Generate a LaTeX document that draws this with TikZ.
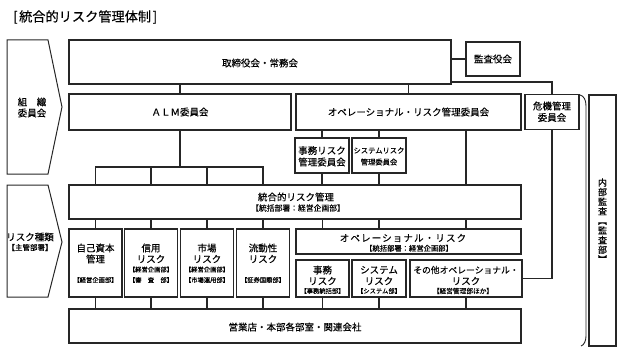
\documentclass[tikz,border=0pt]{standalone}
\usepackage{fontspec}
\setmainfont{Noto Sans CJK JP}[FakeBold=0.3]
\begin{document}
\begin{tikzpicture}[x=1pt,y=-1pt,
  box/.style={draw=black!85, line width=1.1pt, rectangle, inner sep=0pt, outer sep=0pt},
  ln/.style={draw=black!85, line width=1.1pt},
  shp/.style={draw=black!85, line width=1pt},
  txt/.style={inner sep=0pt, font=\fontsize{9.5}{11}\selectfont},
  mid/.style={inner sep=0pt, font=\fontsize{7.3}{8}\selectfont},
  sm/.style={inner sep=0pt, font=\fontsize{6.3}{7}\selectfont}]
\useasboundingbox (0,0) rectangle (622,353);

% title
\node[inner sep=0pt, anchor=west, font=\fontsize{13.2}{15}\selectfont] (title) at (13,17) {[\kern1.5pt 統合的リスク管理体制\kern1.5pt]};

% left pentagons
\draw[shp] (7,40) -- (48,40) -- (62,107) -- (48,174) -- (7,174) -- cycle;
\draw[shp] (7,185) -- (48,185) -- (62,242) -- (48,297) -- (7,297) -- cycle;
\node[txt] (p1a) at (32,102) {組　織};
\node[txt] (p1b) at (32,113) {委員会};
\node[txt] (p2a) at (30,237) {リスク種類};
\node[inner sep=0pt, font=\fontsize{7.5}{8}\selectfont] (p2b) at (30,247.5) {【主管部署】};

% boxes
\node[box, minimum width=382, minimum height=44] (top) at (260,62) {};
\node[box, minimum width=54, minimum height=34] (kansa) at (493,59) {};
\node[box, minimum width=222, minimum height=36] (alm) at (180,112) {};
\node[box, minimum width=225, minimum height=36] (orc) at (408.5,112) {};
\node[box, minimum width=54, minimum height=35] (kiki) at (552,112) {};
\node[box, minimum width=54, minimum height=35] (jimuc) at (322,155.5) {};
\node[box, minimum width=54, minimum height=35] (sysc) at (379,155.5) {};
\node[box, minimum width=452, minimum height=34] (integ) at (295,202) {};
\node[box, minimum width=53, minimum height=68] (r1) at (95.5,263) {};
\node[box, minimum width=53, minimum height=68] (r2) at (151,263) {};
\node[box, minimum width=53, minimum height=68] (r3) at (207,263) {};
\node[box, minimum width=53, minimum height=68] (r4) at (263,263) {};
\node[box, minimum width=225, minimum height=25] (ops) at (408.5,241.5) {};
\node[box, minimum width=53, minimum height=37] (jimu) at (322.5,278.5) {};
\node[box, minimum width=54, minimum height=37] (sys) at (379,278.5) {};
\node[box, minimum width=112, minimum height=37] (other) at (466,278.5) {};
\node[box, minimum width=452, minimum height=34] (bottom) at (295,326) {};
\node[box, minimum width=27, minimum height=251] (audit) at (602.5,220.5) {};

% bracket
\draw[draw=black!85, line width=0.9pt] (580,95) .. controls (584,96) and (586,100) .. (586,106) -- (586,336) .. controls (586,341) and (584,345) .. (581,346);

% texts
\node[txt] (ttop) at (260,63) {取締役会・常務会};
\node[txt] (tkansa) at (493,59) {監査役会};
\node[txt] (talm) at (180,112) {ＡＬＭ委員会};
\node[txt] (torc) at (408.5,112) {オペレーショナル・リスク管理委員会};
\node[txt] (tkiki1) at (552,106) {危機管理};
\node[txt] (tkiki2) at (552,117.5) {委員会};
\node[txt] (tjc1) at (322,150.5) {事務リスク};
\node[txt] (tjc2) at (322,162) {管理委員会};
\node[mid] (tsc1) at (379,150.5) {システムリスク};
\node[mid] (tsc2) at (379,162) {管理委員会};
\node[txt] (tint1) at (296,197) {統合的リスク管理};
\node[inner sep=0pt, font=\fontsize{7.8}{9}\selectfont] (tint2) at (298,208) {【統括部署：経営企画部】};

\node[txt] (tr1a) at (95.5,248) {自己資本};
\node[txt] (tr1b) at (95.5,259) {管理};
\node[sm] (tr1c) at (95.5,280) {【経営企画部】};
\node[txt] (tr2a) at (151,248) {信用};
\node[txt] (tr2b) at (151,259) {リスク};
\node[sm] (tr2c) at (151,269.5) {【経営企画部】};
\node[sm] (tr2d) at (151,280) {【審　査　部】};
\node[txt] (tr3a) at (207,248) {市場};
\node[txt] (tr3b) at (207,259) {リスク};
\node[sm] (tr3c) at (207,269.5) {【経営企画部】};
\node[sm] (tr3d) at (207,280) {【市場運用部】};
\node[txt] (tr4a) at (263,248) {流動性};
\node[txt] (tr4b) at (263,259) {リスク};
\node[sm] (tr4c) at (263,280) {【証券国際部】};

\node[txt] (tops1) at (403,238) {\addfontfeature{LetterSpace=12}オペレーショナル・リスク};
\node[mid] (tops2) at (409,248.3) {【統括部署：経営企画部】};
\node[txt] (tj1) at (322.5,270) {事務};
\node[txt] (tj2) at (322.5,281) {リスク};
\node[sm] (tj3) at (322.5,291) {【事務統括部】};
\node[txt] (ts1) at (379,270) {システム};
\node[txt] (ts2) at (379,281) {リスク};
\node[sm] (ts3) at (379,291) {【システム部】};
\node[inner sep=0pt, font=\fontsize{8.8}{10}\selectfont] (to1) at (466,270) {その他オペレーショナル・};
\node[txt] (to2) at (466,281) {リスク};
\node[inner sep=0pt, font=\fontsize{6.7}{7}\selectfont] (to3) at (463,291) {【経営管理部ほか】};
\node[txt] (tbot) at (295,327) {営業店・本部各部室・関連会社};
\node[inner sep=0pt, align=center, font=\fontsize{9}{9.6}\selectfont] (taud) at (602.5,220.5) {内\\部\\監\\査\\︻\\監\\査\\部\\︼};

% connectors
\coordinate (bar) at (0,167);
\draw[ln] (alm.north) -- (alm.north |- top.south);
\draw[ln] (orc.north) -- (orc.north |- top.south);
\draw[ln] (top.east |- kansa.west) -- (kansa.west);
\draw[ln] ([yshift=2pt]top.south east) -| (kiki.north);
\draw[ln] (alm.south) -- (alm.south |- bar);
\draw[ln] (r1.north |- integ.north) -- (r1.north |- bar) -- (r4.north |- bar) -- (r4.north |- integ.north);
\draw[ln] (r2.north |- bar) -- (r2.north |- integ.north);
\draw[ln] (r3.north |- bar) -- (r3.north |- integ.north);
\draw[ln] (jimuc.north) -- (jimuc.north |- orc.south);
\draw[ln] (sysc.north) -- (sysc.north |- orc.south);
\draw[ln] (jimuc.south) -- (jimuc.south |- integ.north);
\draw[ln] (sysc.south) -- (sysc.south |- integ.north);
\draw[ln] (other.north |- orc.south) -- (other.north |- integ.north);
\foreach \n in {r1,r2,r3,r4} {
  \draw[ln] (\n.north) -- (\n.north |- integ.south);
  \draw[ln] (\n.south) -- (\n.south |- bottom.north);
}
\draw[ln] (jimu.north |- integ.south) -- (jimu.north |- ops.north);
\draw[ln] (sys.north |- integ.south) -- (sys.north |- ops.north);
\draw[ln] (other.north |- integ.south) -- (other.north |- ops.north);
\foreach \n in {jimu,sys,other} {
  \draw[ln] (\n.south) -- (\n.south |- bottom.north);
}
\draw[ln] (kiki.south) |- (other.east);
\end{tikzpicture}
\end{document}
